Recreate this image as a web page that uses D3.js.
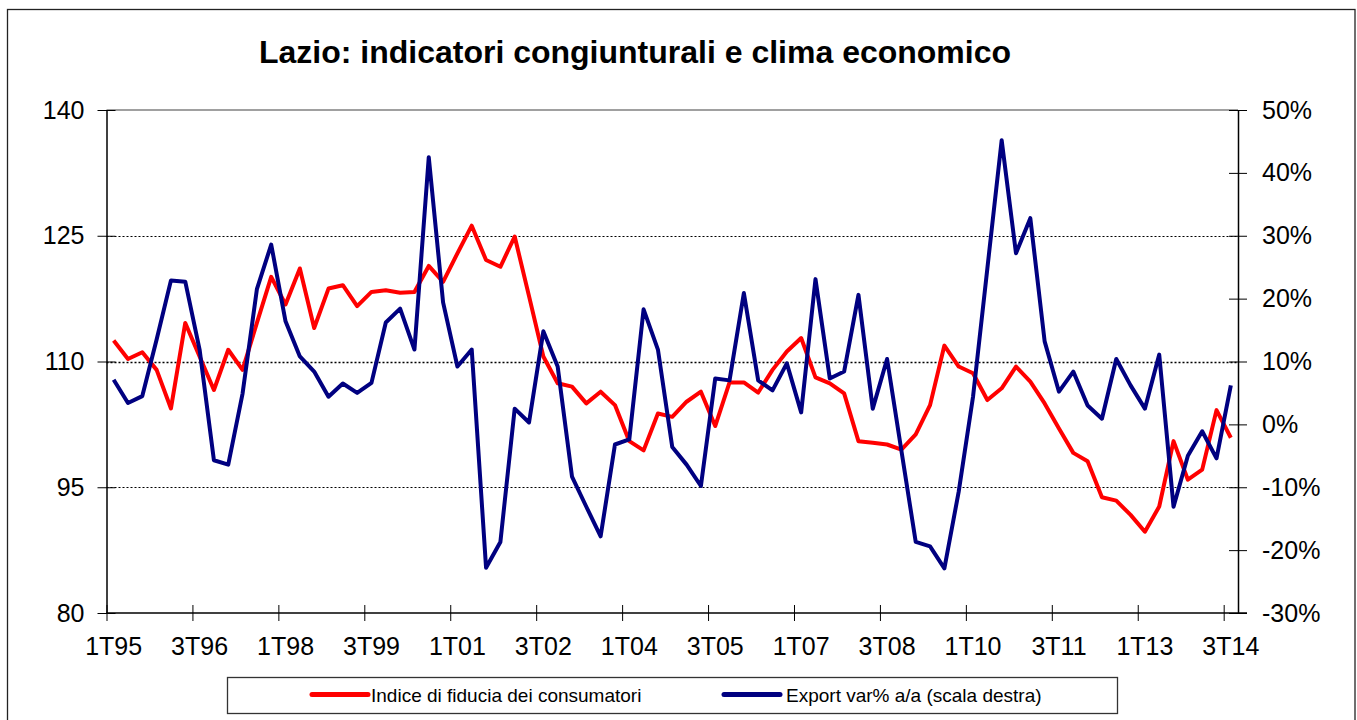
<!DOCTYPE html>
<html>
<head>
<meta charset="utf-8">
<script src="https://cdn.jsdelivr.net/npm/d3@7/dist/d3.min.js"></script>
<style>
  html, body { margin: 0; padding: 0; background: #fff; }
  svg text { font-family: "Liberation Sans", Arial, sans-serif; fill: #000; }
</style>
</head>
<body>
<svg id="chart" width="1357" height="720"></svg>
<script>
const categories = [
  "1T95","2T95","3T95","4T95","1T96","2T96","3T96","4T96","1T97","2T97","3T97","4T97",
  "1T98","2T98","3T98","4T98","1T99","2T99","3T99","4T99","1T00","2T00","3T00","4T00",
  "1T01","2T01","3T01","4T01","1T02","2T02","3T02","4T02","1T03","2T03","3T03","4T03",
  "1T04","2T04","3T04","4T04","1T05","2T05","3T05","4T05","1T06","2T06","3T06","4T06",
  "1T07","2T07","3T07","4T07","1T08","2T08","3T08","4T08","1T09","2T09","3T09","4T09",
  "1T10","2T10","3T10","4T10","1T11","2T11","3T11","4T11","1T12","2T12","3T12","4T12",
  "1T13","2T13","3T13","4T13","1T14","2T14","3T14"
];
const tickLabels = ["1T95","3T96","1T98","3T99","1T01","3T02","1T04","3T05","1T07","3T08","1T10","3T11","1T13","3T14"];

const fiducia = [
  112.5,110.3,111.1,109.0,104.4,114.6,110.6,106.6,111.4,109.0,
  114.6,120.1,116.8,121.1,114.0,118.7,119.1,116.6,118.3,118.5,
  118.2,118.3,121.4,119.5,122.9,126.2,122.1,121.3,124.9,117.8,
  110.6,107.4,107.0,105.0,106.4,104.8,100.5,99.4,103.8,103.4,
  105.2,106.4,102.3,107.5,107.5,106.3,109.0,111.2,112.8,108.1,
  107.4,106.2,100.5,100.3,100.1,99.5,101.3,104.8,111.9,109.4,
  108.6,105.4,106.8,109.4,107.6,105.0,102.0,99.1,98.1,93.8,
  93.4,91.7,89.7,92.7,100.5,95.9,97.1,104.2,100.9
];
const exportVar = [
  7.1,3.4,4.5,13.5,22.9,22.7,11.9,-5.7,-6.4,4.9,
  21.5,28.6,16.4,10.8,8.4,4.4,6.5,5.0,6.6,16.2,
  18.4,11.9,42.5,19.4,9.2,11.9,-22.8,-18.7,2.5,0.3,
  14.8,9.2,-8.3,-13.1,-17.8,-3.2,-2.4,18.3,11.9,-3.6,
  -6.4,-9.8,7.3,7.0,20.9,7.0,5.4,9.7,1.9,23.1,
  7.3,8.4,20.6,2.5,10.4,-4.2,-18.7,-19.4,-22.9,-10.7,
  4.4,24.8,45.2,27.2,32.8,13.2,5.2,8.4,3.0,0.9,
  10.4,6.2,2.5,11.1,-13.1,-5.0,-1.1,-5.4,6.2
];
const leftTicks = [80, 95, 110, 125, 140];
const rightTicks = [-30, -20, -10, 0, 10, 20, 30, 40, 50];
const gridValues = [95, 110, 125];
const seriesNames = ["Indice di fiducia dei consumatori", "Export var% a/a (scala destra)"];
const seriesColors = ["#ff0000", "#000080"];
const title = "Lazio: indicatori congiunturali e clima economico";

const svg = d3.select("#chart");
const L = 106.5, R = 1238, T = 110, B = 613;

// outer frame
svg.append("rect").attr("x", 7.5).attr("y", 9.5).attr("width", 1347.5).attr("height", 730)
  .attr("fill", "#fff").attr("stroke", "#222").attr("stroke-width", 1.3);

// title
svg.append("text").attr("x", 635).attr("y", 63).attr("text-anchor", "middle")
  .style("font-size", "32px").style("font-weight", "bold").text(title);

const x = d3.scaleBand().domain(categories).range([L, R]).paddingInner(0).paddingOuter(0);
const xb = d3.scaleLinear().domain([0, categories.length]).range([L, R]);
const yL = d3.scaleLinear().domain([80, 140]).range([B, T]);
const yR = d3.scaleLinear().domain([-30, 50]).range([B, T]);
const cx = c => x(c) + x.bandwidth() / 2;

// gridlines
svg.append("g").selectAll("line").data(gridValues).join("line")
  .attr("x1", L).attr("x2", R)
  .attr("y1", d => Math.round(yL(d)) + 0.5).attr("y2", d => Math.round(yL(d)) + 0.5)
  .attr("stroke", "#000").attr("stroke-width", d => d === 110 ? 1.7 : 1)
  .attr("stroke-dasharray", "2,2");

// plot top border
svg.append("line").attr("x1", L).attr("x2", R).attr("y1", T).attr("y2", T)
  .attr("stroke", "#808080").attr("stroke-width", 1.5);

// left axis
const gl = svg.append("g").attr("transform", `translate(${L},0)`)
  .call(d3.axisLeft(yL).tickValues(leftTicks).tickSize(9).tickPadding(13).tickSizeOuter(0));
gl.selectAll(".tick line").attr("x1", 9);
gl.selectAll("text").style("font-size", "25px").attr("font-family", null);
gl.select(".domain").attr("stroke-width", 1.5);

// right axis
const gr = svg.append("g").attr("transform", `translate(${R},0)`)
  .call(d3.axisRight(yR).tickValues(rightTicks).tickSize(9).tickPadding(15).tickSizeOuter(0)
    .tickFormat(d => d + "%"));
gr.selectAll(".tick line").attr("x1", -9);
gr.selectAll("text").style("font-size", "25px").attr("font-family", null);
gr.select(".domain").attr("stroke-width", 1.5);

// bottom axis ticks at category boundaries
const boundaries = d3.range(0, categories.length + 1, 6);
const gb = svg.append("g").attr("transform", `translate(0,${B})`)
  .call(d3.axisBottom(xb).tickValues(boundaries).tickSize(8).tickFormat("").tickSizeOuter(0));
gb.selectAll(".tick line").attr("y1", -8);
gb.select(".domain").attr("d", `M${L},0H${R + 9}`).attr("stroke-width", 1.5);

// bottom labels centered on categories
const gbl = svg.append("g").attr("transform", `translate(0,${B})`)
  .call(d3.axisBottom(x).tickValues(tickLabels).tickSize(0).tickPadding(24));
gbl.select(".domain").remove();
gbl.selectAll("text").style("font-size", "25px").attr("font-family", null);

// lines
const lineL = d3.line().x((d, i) => cx(categories[i])).y(d => yL(d));
const lineR = d3.line().x((d, i) => cx(categories[i])).y(d => yR(d));
svg.append("path").datum(fiducia).attr("d", lineL).attr("fill", "none")
  .attr("stroke", seriesColors[0]).attr("stroke-width", 4).attr("stroke-linejoin", "round");
svg.append("path").datum(exportVar).attr("d", lineR).attr("fill", "none")
  .attr("stroke", seriesColors[1]).attr("stroke-width", 4).attr("stroke-linejoin", "round");

// legend
svg.append("rect").attr("x", 227.5).attr("y", 677.5).attr("width", 890).attr("height", 36)
  .attr("fill", "#fff").attr("stroke", "#333").attr("stroke-width", 1.3);
const legendItems = [
  { x1: 312, x2: 368, tx: 371 },
  { x1: 724, x2: 780, tx: 786 }
];
legendItems.forEach((it, i) => {
  svg.append("line").attr("x1", it.x1).attr("x2", it.x2).attr("y1", 694.5).attr("y2", 694.5)
    .attr("stroke", seriesColors[i]).attr("stroke-width", 5).attr("stroke-linecap", "round");
  svg.append("text").attr("x", it.tx).attr("y", 702).style("font-size", "19px").text(seriesNames[i]);
});
</script>
</body>
</html>
